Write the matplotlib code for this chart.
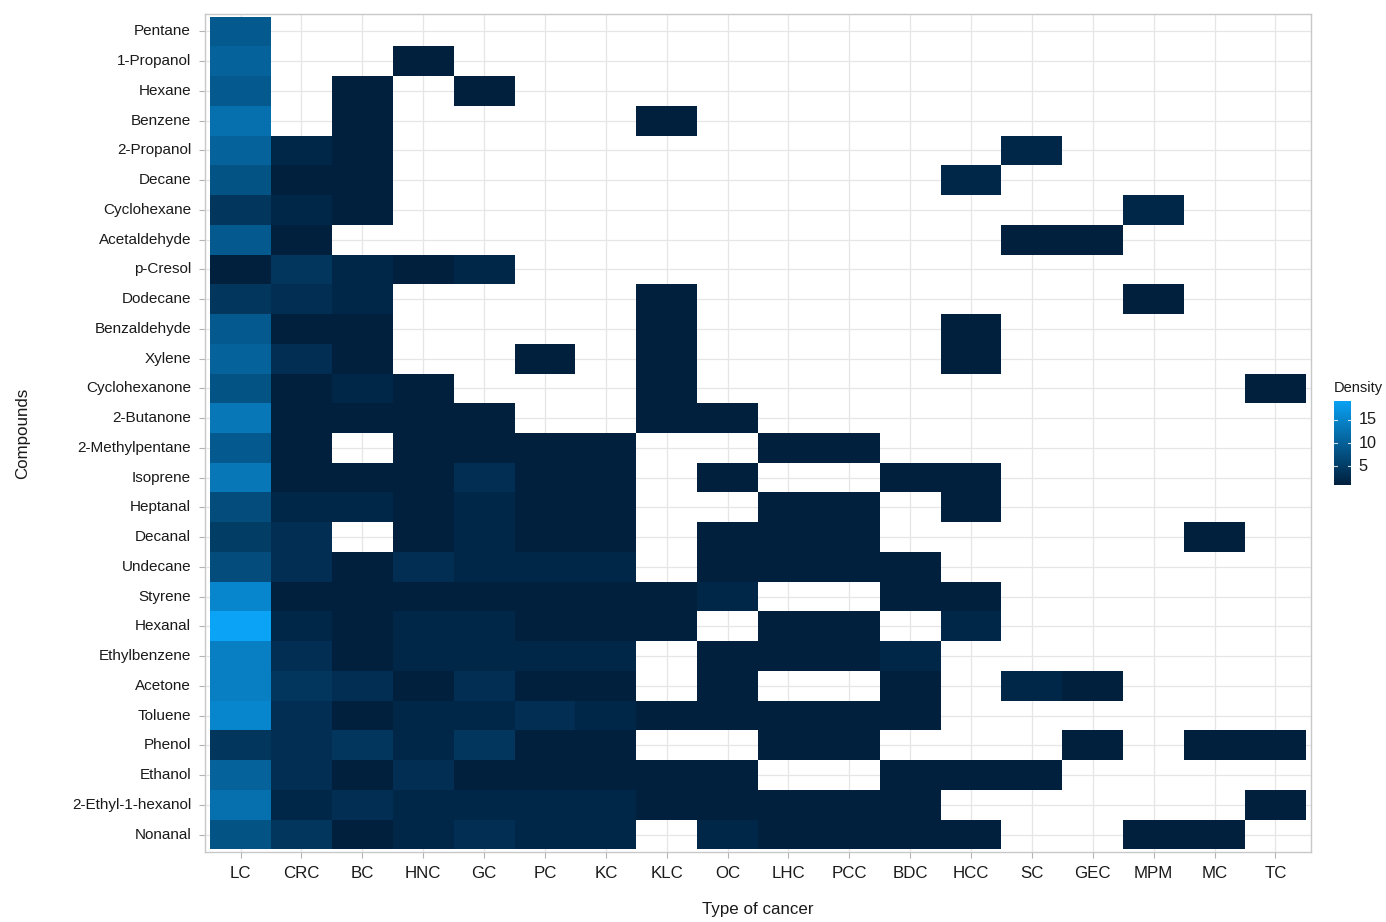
import numpy as np
import matplotlib
matplotlib.use("Agg")
import matplotlib.pyplot as plt
import matplotlib.colors as mcolors

plt.rcParams['font.family'] = ['Liberation Sans', 'DejaVu Sans']

n = None

compounds = ["Pentane", "1-Propanol", "Hexane", "Benzene", "2-Propanol", "Decane",
             "Cyclohexane", "Acetaldehyde", "p-Cresol", "Dodecane", "Benzaldehyde",
             "Xylene", "Cyclohexanone", "2-Butanone", "2-Methylpentane", "Isoprene",
             "Heptanal", "Decanal", "Undecane", "Styrene", "Hexanal", "Ethylbenzene",
             "Acetone", "Toluene", "Phenol", "Ethanol", "2-Ethyl-1-hexanol", "Nonanal"]

cancers = ["LC", "CRC", "BC", "HNC", "GC", "PC", "KC", "KLC", "OC", "LHC", "PCC",
           "BDC", "HCC", "SC", "GEC", "MPM", "MC", "TC"]

# density per cancer type, one value per compound (None = not reported)
lc  = [9, 10, 9, 12, 10, 8, 4, 9, 1, 4, 9, 10, 8, 13, 9, 13, 7, 5, 7, 15, 19, 14, 14, 15, 4, 10, 12, 8]
crc = [n, n, n, n, 2, 1, 2, 1, 4, 3, 1, 3, 1, 1, 1, 1, 2, 3, 3, 1, 2, 3, 4, 3, 3, 3, 2, 4]
bc  = [n, n, 1, 1, 1, 1, 1, n, 2, 2, 1, 1, 2, 1, n, 1, 2, n, 1, 1, 1, 1, 3, 1, 4, 1, 3, 1]
hnc = [n, 1, n, n, n, n, n, n, 1, n, n, n, 1, 1, 1, 1, 1, 1, 3, 1, 2, 2, 1, 2, 2, 3, 2, 2]
gc  = [n, n, 1, n, n, n, n, n, 2, n, n, n, n, 1, 1, 3, 2, 2, 2, 1, 2, 2, 3, 2, 4, 1, 2, 3]
pc  = [n, n, n, n, n, n, n, n, n, n, n, 1, n, n, 1, 1, 1, 1, 2, 1, 1, 2, 1, 3, 1, 1, 2, 2]
kc  = [n, n, n, n, n, n, n, n, n, n, n, n, n, n, 1, 1, 1, 1, 2, 1, 1, 2, 1, 2, 1, 1, 2, 2]
klc = [n, n, n, 1, n, n, n, n, n, 1, 1, 1, 1, 1, n, n, n, n, n, 1, 1, n, n, 1, n, 1, 1, n]
oc  = [n, n, n, n, n, n, n, n, n, n, n, n, n, 1, n, 1, n, 1, 1, 2, n, 1, 1, 1, n, 1, 1, 2]
lhc = [n, n, n, n, n, n, n, n, n, n, n, n, n, n, 1, n, 1, 1, 1, n, 1, 1, n, 1, 1, n, 1, 1]
pcc = [n, n, n, n, n, n, n, n, n, n, n, n, n, n, 1, n, 1, 1, 1, n, 1, 1, n, 1, 1, n, 1, 1]
bdc = [n, n, n, n, n, n, n, n, n, n, n, n, n, n, n, 1, n, n, 1, 1, n, 2, 1, 1, n, 1, 1, 1]
hcc = [n, n, n, n, n, 2, n, n, n, n, 1, 1, n, n, n, 1, 1, n, n, 1, 2, n, n, n, n, 1, n, 1]
sc  = [n, n, n, n, 2, n, n, 1, n, n, n, n, n, n, n, n, n, n, n, n, n, n, 2, n, n, 1, n, n]
gec = [n, n, n, n, n, n, n, 1, n, n, n, n, n, n, n, n, n, n, n, n, n, n, 1, n, 1, n, n, n]
mpm = [n, n, n, n, n, n, 2, n, n, 1, n, n, n, n, n, n, n, n, n, n, n, n, n, n, n, n, n, 1]
mc  = [n, n, n, n, n, n, n, n, n, n, n, n, n, n, n, n, n, 1, n, n, n, n, n, n, 1, n, n, 1]
tc  = [n, n, n, n, n, n, n, n, n, n, n, n, 1, n, n, n, n, n, n, n, n, n, n, n, 1, n, 1, n]

columns = [lc, crc, bc, hnc, gc, pc, kc, klc, oc, lhc, pcc, bdc, hcc, sc, gec, mpm, mc, tc]

grid = np.array([[np.nan if v is None else v for v in col] for col in columns], dtype=float).T
grid = grid[::-1]  # bottom row first so Pentane ends up on top
masked = np.ma.masked_invalid(grid)

vmin, vmax = 1, 19
cmap = mcolors.LinearSegmentedColormap.from_list("dens", ["#00203e", "#0aa3f5"])
norm = mcolors.Normalize(vmin=vmin, vmax=vmax)

nx, ny = len(cancers), len(compounds)
fig = plt.figure(figsize=(13.86, 9.22), dpi=100)
ax = fig.add_axes([205 / 1386, 1 - 852 / 922, 1106 / 1386, 838 / 922])

ax.pcolormesh(np.arange(nx + 1) + 0.5, np.arange(ny + 1) + 0.5, masked,
              cmap=cmap, norm=norm, zorder=2)

pad = 0.085
ax.set_xlim(0.5 - pad, nx + 0.5 + pad)
ax.set_ylim(0.5 - pad, ny + 0.5 + pad)
ax.set_xticks(np.arange(1, nx + 1))
ax.set_xticklabels(cancers, fontsize=12.2, color="#1a1a1a")
ax.set_yticks(np.arange(1, ny + 1))
ax.set_yticklabels(compounds[::-1], fontsize=11, color="#1a1a1a", va="center")
ax.tick_params(length=4, width=0.8, color="#b3b3b3")
ax.tick_params(axis="x", pad=6)
ax.tick_params(axis="y", pad=6)
ax.grid(True, color="#e6e6e6", linewidth=0.9, zorder=0)
ax.set_axisbelow(True)
for s in ax.spines.values():
    s.set_color("#c8c8c8")
    s.set_linewidth(1.0)

ax.set_xlabel("Type of cancer", fontsize=12.2, color="#1a1a1a", labelpad=15)
ax.set_ylabel("Compounds", fontsize=12.2, color="#1a1a1a", labelpad=30)

# colour bar, ggplot style
cax = fig.add_axes([1334 / 1386, 1 - 485 / 922, 17 / 1386, 84 / 922])
grad = np.linspace(vmin, vmax, 256).reshape(-1, 1)
cax.imshow(grad, aspect="auto", cmap=cmap, norm=norm, origin="lower",
           extent=[0, 1, vmin, vmax])
cax.set_xlim(0, 1)
cax.set_ylim(vmin, vmax)
for t in [5, 10, 15]:
    cax.plot([0, 0.2], [t, t], color="white", lw=0.8, alpha=0.8)
    cax.plot([0.8, 1], [t, t], color="white", lw=0.8, alpha=0.8)
    cax.text(1.45, t, str(t), fontsize=11.7, color="#1a1a1a", va="center", ha="left",
             transform=cax.transData)
cax.set_xticks([])
cax.set_yticks([])
for s in cax.spines.values():
    s.set_visible(False)
fig.text(1334 / 1386, 1 - 388 / 922, "Density", fontsize=10.5, color="#1a1a1a",
         ha="left", va="center")

fig.savefig("out.png", dpi=100)
